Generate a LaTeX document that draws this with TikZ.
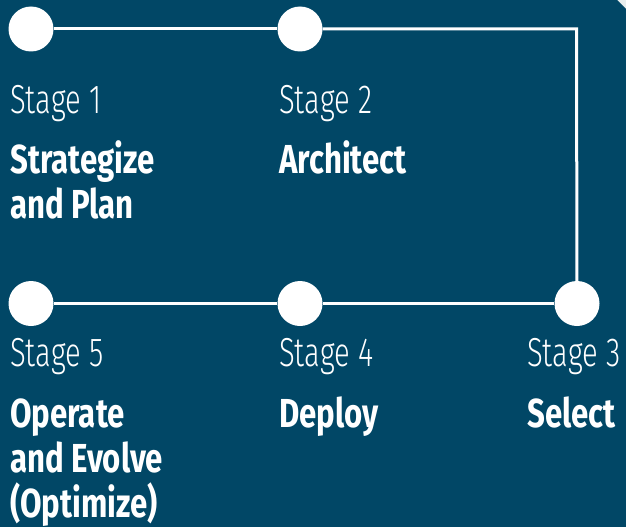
\documentclass[tikz,border=0pt]{standalone}
\usepackage{fontspec}
\newfontfamily\lightf[FakeStretch=0.72]{Fira Sans Light}
\newfontfamily\boldf[FakeStretch=0.77,BoldFont={* Bold}]{Fira Sans}
\definecolor{bgblue}{RGB}{1,71,102}
\definecolor{outside}{RGB}{232,238,238}
\begin{document}
\begin{tikzpicture}[x=1pt,y=-1pt,
  dot/.style={circle,fill=white,minimum size=45pt,inner sep=0pt},
  link/.style={draw=white,line width=3pt},
  stagelbl/.style={anchor=base west,inner sep=0pt,text=white,font=\lightf\fontsize{40.5}{45}\selectfont},
  titlelbl/.style={anchor=base west,inner sep=0pt,text=white,font=\boldf\bfseries\fontsize{40.5}{45}\selectfont}]
\useasboundingbox (0,0) rectangle (626,527);
\fill[outside] (0,0) rectangle (626,527);
\fill[bgblue] (0,0) -- (617,0) -- (626,9) -- (626,527) -- (0,527) -- cycle;
% dots
\node[dot] (c1) at (31,29) {};
\node[dot] (c2) at (300,29) {};
\node[dot] (c3) at (577,303.5) {};
\node[dot] (c4) at (300,303.5) {};
\node[dot] (c5) at (31,303.5) {};
\coordinate (corner) at (576.5,29);
% connectors
\draw[link] (c1) -- (c2);
\draw[link] (c2) -- (corner) -- (c3);
\draw[link] (c3) -- (c4);
\draw[link] (c4) -- (c5);
% labels
\node[stagelbl] (s1) at (10,113) {Stage 1};
\node[titlelbl] (t1a) at (10,173) {Strategize};
\node[titlelbl] (t1b) at (10,218) {and Plan};
\node[stagelbl] (s2) at (279,113) {Stage 2};
\node[titlelbl] (t2a) at (279,173) {Architect};
\node[stagelbl] (s3) at (527,366) {Stage 3};
\node[titlelbl] (t3a) at (527,427) {Select};
\node[stagelbl] (s4) at (279,366) {Stage 4};
\node[titlelbl] (t4a) at (279,427) {Deploy};
\node[stagelbl] (s5) at (10,366) {Stage 5};
\node[titlelbl] (t5a) at (10,427) {Operate};
\node[titlelbl] (t5b) at (10,472) {and Evolve};
\node[titlelbl] (t5c) at (10,517) {(Optimize)};
\end{tikzpicture}
\end{document}
